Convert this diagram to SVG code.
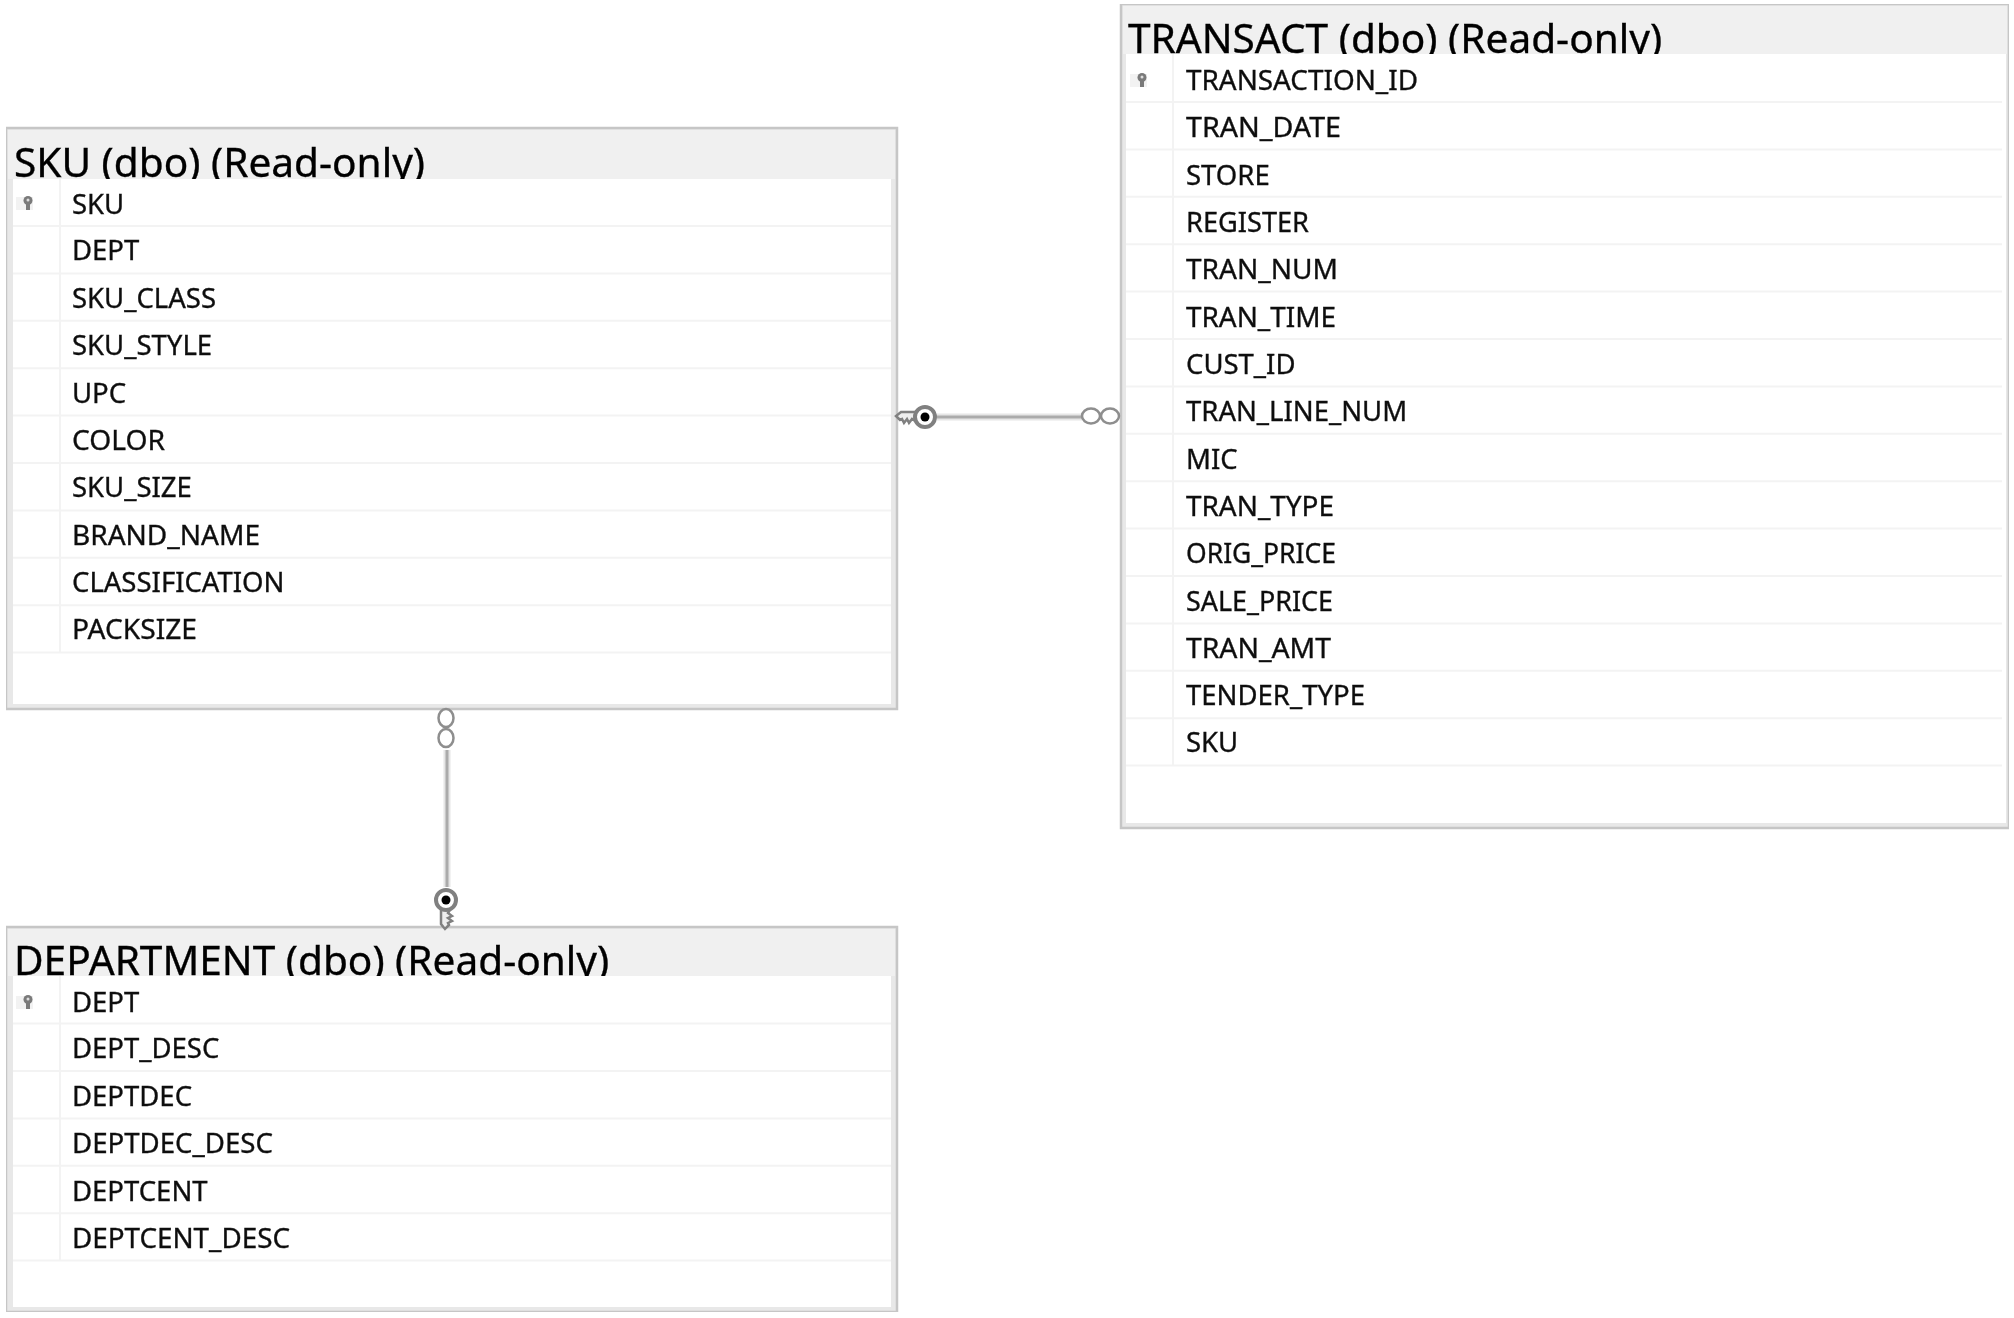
<svg xmlns="http://www.w3.org/2000/svg" width="2014" height="1318" viewBox="0 0 2014 1318">
<style>
.outer{fill:#e8e8e8;stroke:#c6c6c6;stroke-width:2.5}
.head{fill:#f0f0f0}
.body{fill:#fff}
.title{font-family:"Noto Sans","Open Sans","Liberation Sans",sans-serif;font-size:40.6px;fill:#000;stroke:#000;stroke-width:.35}
.row{font-family:"Noto Sans","Open Sans","Liberation Sans",sans-serif;font-size:27.5px;fill:#111;stroke:#111;stroke-width:.35}
.sep{fill:none;stroke:#f3f3f3;stroke-width:2}
.halo{fill:none;stroke:#e6e6e6;stroke-width:7}
.line{fill:none;stroke:#ababab;stroke-width:3}
.crow{fill:#fff;stroke:#8e8e8e;stroke-width:2.5}
</style>
<defs>
<filter id="soft" x="0" y="0" width="100%" height="100%"><feGaussianBlur stdDeviation="0.7"/></filter>
<g id="pk"><rect x="-12" y="-6" width="17" height="13" fill="#f2f2f2"/><circle cx="0" cy="-2.500" r="4.500" fill="#7a7a7a"/><circle cx="0" cy="-3" r="1.500" fill="#ddd"/><rect x="-2" y="-1" width="4" height="8" fill="#7a7a7a"/></g>
<g id="bigkey"><path d="M-8,-5 L-24,-5 L-29,-1 L-25,3 L-23,2 L-21,6 L-18,2 L-16,6 L-13,2 L-8,5 Z" fill="#eee" stroke="#808080" stroke-width="2.500"/><circle r="10" fill="#fff" stroke="#808080" stroke-width="4"/><circle r="4.500" fill="#000"/></g>
</defs>
<rect width="2014" height="1318" fill="#fff"/>
<g filter="url(#soft)">
<g id="sku">
<rect class="outer" x="6" y="128" width="891" height="581"/>
<rect class="head" x="8" y="130" width="887" height="49"/>
<text class="title" x="14" y="176.500">SKU (dbo) (Read-only)</text>
<rect class="body" x="13" y="179" width="878" height="525"/>
<path class="sep" d="M60,179V652M13,226H891M13,273.400H891M13,320.800H891M13,368.200H891M13,415.600H891M13,463H891M13,510.400H891M13,557.800H891M13,605.200H891M13,652.600H891"/>
<use href="#pk" x="28" y="203"/>
<text class="row" x="72" y="213.500">SKU</text>
<text class="row" x="72" y="260.400">DEPT</text>
<text class="row" x="72" y="307.800">SKU_CLASS</text>
<text class="row" x="72" y="355.200">SKU_STYLE</text>
<text class="row" x="72" y="402.600">UPC</text>
<text class="row" x="72" y="450.400" textLength="93" lengthAdjust="spacingAndGlyphs">COLOR</text>
<text class="row" x="72" y="497.400">SKU_SIZE</text>
<text class="row" x="72" y="544.800" textLength="188" lengthAdjust="spacingAndGlyphs">BRAND_NAME</text>
<text class="row" x="72" y="592.200">CLASSIFICATION</text>
<text class="row" x="72" y="639.300" textLength="125" lengthAdjust="spacingAndGlyphs">PACKSIZE</text>
</g>
<g id="transact">
<rect class="outer" x="1121" y="4" width="888" height="824"/>
<rect class="head" x="1123" y="6" width="884" height="48"/>
<text class="title" x="1128" y="53">TRANSACT (dbo) (Read-only)</text>
<rect class="body" x="1126" y="54" width="880" height="769"/>
<path class="sep" d="M1173,54V765M1126,102H2002M1126,149.400H2002M1126,196.800H2002M1126,244.200H2002M1126,291.600H2002M1126,339H2002M1126,386.400H2002M1126,433.800H2002M1126,481.200H2002M1126,528.600H2002M1126,576H2002M1126,623.400H2002M1126,670.800H2002M1126,718.200H2002M1126,765.600H2002"/>
<use href="#pk" x="1142" y="80"/>
<text class="row" x="1186" y="90" textLength="232" lengthAdjust="spacingAndGlyphs">TRANSACTION_ID</text>
<text class="row" x="1186" y="137.300" textLength="155" lengthAdjust="spacingAndGlyphs">TRAN_DATE</text>
<text class="row" x="1186" y="184.600">STORE</text>
<text class="row" x="1186" y="231.900" textLength="123" lengthAdjust="spacingAndGlyphs">REGISTER</text>
<text class="row" x="1186" y="279.200" textLength="152" lengthAdjust="spacingAndGlyphs">TRAN_NUM</text>
<text class="row" x="1186" y="326.800" textLength="150" lengthAdjust="spacingAndGlyphs">TRAN_TIME</text>
<text class="row" x="1186" y="374.100">CUST_ID</text>
<text class="row" x="1186" y="421.400">TRAN_LINE_NUM</text>
<text class="row" x="1186" y="468.700">MIC</text>
<text class="row" x="1186" y="516" textLength="148" lengthAdjust="spacingAndGlyphs">TRAN_TYPE</text>
<text class="row" x="1186" y="563.300" textLength="150" lengthAdjust="spacingAndGlyphs">ORIG_PRICE</text>
<text class="row" x="1186" y="610.600" textLength="147" lengthAdjust="spacingAndGlyphs">SALE_PRICE</text>
<text class="row" x="1186" y="657.900" textLength="145" lengthAdjust="spacingAndGlyphs">TRAN_AMT</text>
<text class="row" x="1186" y="705.200">TENDER_TYPE</text>
<text class="row" x="1186" y="752.400">SKU</text>
</g>
<g id="department">
<rect class="outer" x="6" y="927" width="891" height="385"/>
<rect class="head" x="8" y="929" width="887" height="47"/>
<text class="title" x="14" y="974.500">DEPARTMENT (dbo) (Read-only)</text>
<rect class="body" x="13" y="976" width="878" height="331"/>
<path class="sep" d="M60,976V1261M13,1023.500H891M13,1071H891M13,1118.400H891M13,1165.800H891M13,1213.200H891M13,1260.600H891"/>
<use href="#pk" x="28" y="1002"/>
<text class="row" x="72" y="1011.500">DEPT</text>
<text class="row" x="72" y="1058.400">DEPT_DESC</text>
<text class="row" x="72" y="1105.800">DEPTDEC</text>
<text class="row" x="72" y="1153.200" textLength="201" lengthAdjust="spacingAndGlyphs">DEPTDEC_DESC</text>
<text class="row" x="72" y="1200.600">DEPTCENT</text>
<text class="row" x="72" y="1248" textLength="218" lengthAdjust="spacingAndGlyphs">DEPTCENT_DESC</text>
</g>
<g id="connectors">
<path class="halo" d="M937,417H1082"/><path class="line" d="M937,417H1082"/>
<use href="#bigkey" transform="translate(925,417)"/>
<ellipse class="crow" cx="1091" cy="416" rx="9" ry="7.500"/><ellipse class="crow" cx="1110" cy="416" rx="9" ry="7.500"/>
<path class="halo" d="M447,750V887"/><path class="line" d="M447,750V887"/>
<use href="#bigkey" transform="translate(446,900) rotate(-90)"/>
<ellipse class="crow" cx="446" cy="718" rx="7.500" ry="9"/><ellipse class="crow" cx="446" cy="738" rx="7.500" ry="9"/>
</g>
</g>
</svg>
